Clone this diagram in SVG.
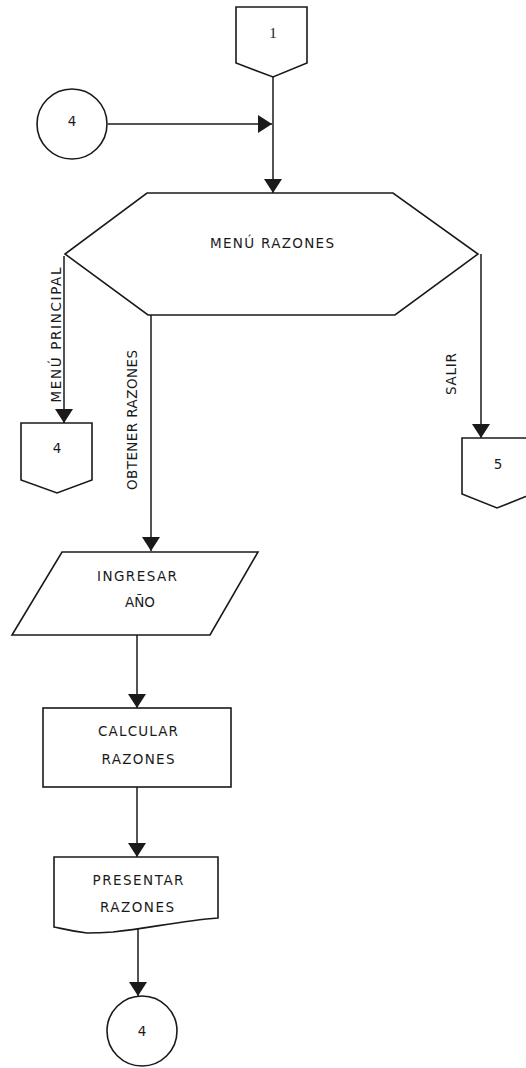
<svg xmlns="http://www.w3.org/2000/svg" width="526" height="1068" viewBox="0 0 526 1068">
  <style>
    .shape { fill: #ffffff; stroke: #1a1a1a; stroke-width: 1.6; }
    .edge { fill: none; stroke: #1a1a1a; stroke-width: 1.5; }
    .lbl { font-family: "DejaVu Sans", "Liberation Sans", sans-serif; font-size: 13.5px; fill: #1a1a1a; text-anchor: middle; }
  </style>
  <defs>
    <marker id="arrow" viewBox="0 0 14 18" refX="14" refY="9" markerWidth="14" markerHeight="18" markerUnits="userSpaceOnUse" orient="auto">
      <path d="M0,0 L14,9 L0,18 Z" fill="#1a1a1a"/>
    </marker>
  </defs>
  <rect width="526" height="1068" fill="#ffffff"/>

  <!-- connectors -->
  <g id="connectors">
    <path class="edge" d="M273,77 V193" marker-end="url(#arrow)"/>
    <path class="edge" d="M108,124 H272" marker-end="url(#arrow)"/>
    <path class="edge" d="M64,256 V423" marker-end="url(#arrow)"/>
    <path class="edge" d="M151,315 V551" marker-end="url(#arrow)"/>
    <path class="edge" d="M481,254 V438" marker-end="url(#arrow)"/>
    <path class="edge" d="M137,635 V708" marker-end="url(#arrow)"/>
    <path class="edge" d="M137,787 V857" marker-end="url(#arrow)"/>
    <path class="edge" d="M138,928 V996" marker-end="url(#arrow)"/>
    <text class="lbl" transform="translate(61,335) rotate(-90)" textLength="135" lengthAdjust="spacing">MENÚ PRINCIPAL</text>
    <text class="lbl" transform="translate(137,420) rotate(-90)" textLength="140" lengthAdjust="spacing">OBTENER RAZONES</text>
    <text class="lbl" transform="translate(456,374) rotate(-90)" textLength="42" lengthAdjust="spacing">SALIR</text>
  </g>

  <!-- off-page connector 1 -->
  <g id="offpage-1">
    <path class="shape" d="M236,7 H307 V63 L273,77 L236,63 Z"/>
    <text class="lbl" x="273" y="38" style="font-family: 'Liberation Serif', serif; font-size: 15px;">1</text>
  </g>

  <!-- on-page connector 4 (entry) -->
  <g id="connector-4-in">
    <circle class="shape" cx="72" cy="124" r="35"/>
    <text class="lbl" x="72" y="126">4</text>
  </g>

  <!-- menu -->
  <g id="menu-razones">
    <path class="shape" d="M147,193 H393 L478,254 L395,315 H148 L65,254 Z"/>
    <text class="lbl" x="272" y="248" textLength="124" lengthAdjust="spacing">MENÚ RAZONES</text>
  </g>

  <!-- off-page connector 4 -->
  <g id="offpage-4">
    <path class="shape" d="M21,423 H92 V480 L57,493 L21,480 Z"/>
    <text class="lbl" x="57" y="453">4</text>
  </g>

  <!-- off-page connector 5 -->
  <g id="offpage-5">
    <path class="shape" d="M462,438 H532 V494 L497,508 L462,494 Z"/>
    <text class="lbl" x="498" y="469">5</text>
  </g>

  <!-- input -->
  <g id="ingresar-anio">
    <path class="shape" d="M62,552 H258 L210,635 H12 Z"/>
    <text class="lbl" x="137" y="581" textLength="80" lengthAdjust="spacing">INGRESAR</text>
    <text class="lbl" x="140" y="607">AÑO</text>
  </g>

  <!-- process -->
  <g id="calcular-razones">
    <rect class="shape" x="43" y="708" width="188" height="79"/>
    <text class="lbl" x="138" y="736" textLength="80" lengthAdjust="spacing">CALCULAR</text>
    <text class="lbl" x="138" y="764" textLength="73" lengthAdjust="spacing">RAZONES</text>
  </g>

  <!-- document output -->
  <g id="presentar-razones">
    <path class="shape" d="M54,857 H218 V918 C180,921 150,928 113,932 C100,933 90,933 87,933 C70,931 60,928 54,927 Z"/>
    <text class="lbl" x="138" y="885" textLength="91" lengthAdjust="spacing">PRESENTAR</text>
    <text class="lbl" x="137" y="912" textLength="74" lengthAdjust="spacing">RAZONES</text>
  </g>

  <!-- on-page connector 4 (exit) -->
  <g id="connector-4-out">
    <circle class="shape" cx="142" cy="1031" r="35"/>
    <text class="lbl" x="142" y="1036">4</text>
  </g>
</svg>
